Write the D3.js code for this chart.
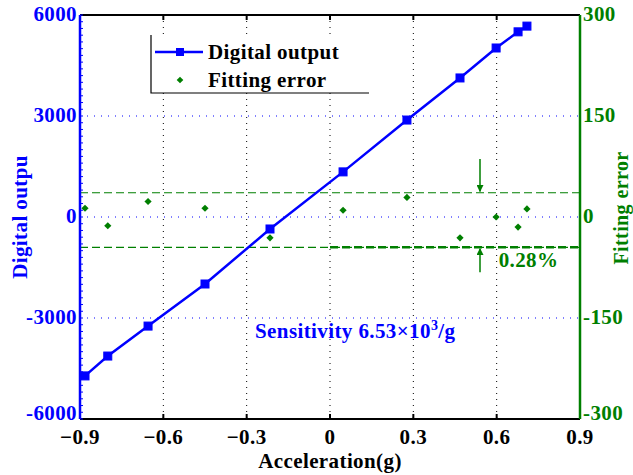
<!DOCTYPE html>
<html>
<head>
<meta charset="utf-8">
<script src="https://cdn.jsdelivr.net/npm/d3@7"></script>
<style>
  body { margin: 0; background: #fff; }
  text { font-family: "Liberation Serif", "Times New Roman", serif; font-weight: bold; letter-spacing: 0.4px; }
</style>
</head>
<body>
<div id="chart"></div>
<script>
// data
var accel = [-0.882, -0.8, -0.655, -0.45, -0.216, 0.047, 0.277, 0.468, 0.598, 0.677, 0.709]
var digitalOut = [-4720, -4130, -3240, -1990, -356, 1340, 2880, 4130, 5020, 5500, 5670]
var fitError = [13, -13, 23, 13, -31, 10, 29, -31, 0, -15, 12]
var errBand = [36, -45]
var xTicks = [-0.9, -0.6, -0.3, 0, 0.3, 0.6, 0.9]
var yLeftTicks = [-6000, -3000, 0, 3000, 6000]
var yRightTicks = [-300, -150, 0, 150, 300]

var blue = "#0000ff", green = "#007f00"
var margin = {top: 15, right: 53, bottom: 56, left: 80},
    width = 633 - margin.left - margin.right,
    height = 475 - margin.top - margin.bottom

var svg = d3.select("#chart")
  .append("svg")
    .attr("width", 633)
    .attr("height", 475)
  .append("g")
    .attr("transform", "translate(" + margin.left + "," + margin.top + ")")

var x = d3.scaleLinear().domain([-0.9, 0.9]).range([0, width])
var yL = d3.scaleLinear().domain([-6000, 6000]).range([height, 0])
var yR = d3.scaleLinear().domain([-300, 300]).range([height, 0])

// grid
svg.selectAll(".vgrid")
  .data(xTicks.slice(1, -1))
  .enter().append("line")
    .attr("x1", d => x(d)).attr("x2", d => x(d))
    .attr("y1", 0).attr("y2", height)
    .attr("stroke", "#000").attr("stroke-width", 1)
    .attr("stroke-dasharray", "1,5")
svg.selectAll(".hgrid")
  .data(yLeftTicks.slice(1, -1))
  .enter().append("line")
    .attr("x1", 0).attr("x2", width)
    .attr("y1", d => yL(d)).attr("y2", d => yL(d))
    .attr("stroke", blue).attr("stroke-width", 1)
    .attr("stroke-dasharray", "1,6")

// error band lines
svg.selectAll(".band")
  .data(errBand)
  .enter().append("line")
    .attr("x1", 0).attr("x2", width)
    .attr("y1", d => yR(d)).attr("y2", d => yR(d))
    .attr("stroke", green).attr("stroke-width", 1.2)
    .attr("stroke-dasharray", "8,4")
svg.append("line")
  .attr("x1", x(0)).attr("x2", width)
  .attr("y1", yR(errBand[1])).attr("y2", yR(errBand[1]))
  .attr("stroke", green).attr("stroke-width", 2.4)
  .attr("stroke-dasharray", "8,4")

// arrows
var arrowX = x(0.54)
svg.append("defs").append("marker")
    .attr("id", "head")
    .attr("viewBox", "0 0 10 10")
    .attr("refX", 9).attr("refY", 5)
    .attr("markerWidth", 7).attr("markerHeight", 7)
    .attr("markerUnits", "userSpaceOnUse")
    .attr("orient", "auto")
  .append("path").attr("d", "M0,0 L10,5 L0,10 z").attr("fill", green)
svg.append("line")
  .attr("x1", arrowX).attr("x2", arrowX)
  .attr("y1", yR(86)).attr("y2", yR(errBand[0] + 2))
  .attr("stroke", green).attr("stroke-width", 1.5)
  .attr("marker-end", "url(#head)")
svg.append("line")
  .attr("x1", arrowX).attr("x2", arrowX)
  .attr("y1", yR(-82)).attr("y2", yR(errBand[1] - 2))
  .attr("stroke", green).attr("stroke-width", 1.5)
  .attr("marker-end", "url(#head)")
svg.append("text")
  .attr("x", x(0.6) + 2).attr("y", yR(-74))
  .attr("fill", green).style("font-size", "21px")
  .text("0.28%")

// digital output line + squares
svg.append("path")
  .datum(accel.map((a, i) => [a, digitalOut[i]]))
  .attr("fill", "none").attr("stroke", blue).attr("stroke-width", 2.5)
  .attr("d", d3.line().x(d => x(d[0])).y(d => yL(d[1])))
svg.selectAll(".sq")
  .data(accel.map((a, i) => [a, digitalOut[i]]))
  .enter().append("rect")
    .attr("x", d => x(d[0]) - 4).attr("y", d => yL(d[1]) - 4)
    .attr("width", 8).attr("height", 8)
    .attr("fill", blue).attr("stroke", blue)

// fitting error markers (small rotated squares)
svg.selectAll(".err")
  .data(accel.map((a, i) => [a, fitError[i]]))
  .enter().append("path")
    .attr("transform", d => "translate(" + x(d[0]) + "," + yR(d[1]) + ") rotate(45)")
    .attr("d", d3.symbol().type(d3.symbolSquare).size(26))
    .attr("fill", green)

// axes frame
svg.append("line").attr("x1", 0).attr("x2", width).attr("y1", 0).attr("y2", 0)
  .attr("stroke", "#000").attr("stroke-width", 2)
svg.append("line").attr("x1", 0).attr("x2", width).attr("y1", height).attr("y2", height)
  .attr("stroke", "#000").attr("stroke-width", 2)

// x ticks (inward, top and bottom)
svg.selectAll(".xt")
  .data(xTicks)
  .enter().append("line")
    .attr("x1", d => x(d)).attr("x2", d => x(d))
    .attr("y1", height).attr("y2", height - 5)
    .attr("stroke", "#000").attr("stroke-width", 2)
svg.selectAll(".xtt")
  .data(xTicks)
  .enter().append("line")
    .attr("x1", d => x(d)).attr("x2", d => x(d))
    .attr("y1", 0).attr("y2", 5)
    .attr("stroke", "#000").attr("stroke-width", 2)
svg.selectAll(".xl")
  .data(xTicks)
  .enter().append("text")
    .attr("x", d => x(d)).attr("y", height + 25)
    .attr("text-anchor", "middle").style("font-size", "21px")
    .text(d => d3.format("")(d))

// left axis with minor ticks
svg.append("line").attr("x1", 0).attr("x2", 0).attr("y1", 0).attr("y2", height)
  .attr("stroke", blue).attr("stroke-width", 2.5)
svg.selectAll(".ym")
  .data(d3.range(-6000, 6001, 200))
  .enter().append("line")
    .attr("x1", 0).attr("x2", 3)
    .attr("y1", d => yL(d)).attr("y2", d => yL(d))
    .attr("stroke", blue).attr("stroke-width", 1)
svg.selectAll(".yl")
  .data(yLeftTicks)
  .enter().append("text")
    .attr("x", -3).attr("y", d => yL(d) + (d === -6000 ? 1 : 6))
    .attr("text-anchor", "end").attr("fill", blue).style("font-size", "21px")
    .text(d => d)

// right axis
svg.append("line").attr("x1", width).attr("x2", width).attr("y1", 0).attr("y2", height)
  .attr("stroke", green).attr("stroke-width", 2.5)
svg.selectAll(".yr")
  .data(yRightTicks)
  .enter().append("text")
    .attr("x", width + 3).attr("y", d => yR(d) + (d === -300 ? 1 : 6))
    .attr("fill", green).style("font-size", "21px")
    .text(d => d)

// axis titles
svg.append("text")
  .attr("x", x(0)).attr("y", height + 49)
  .attr("text-anchor", "middle").style("font-size", "21px")
  .text("Acceleration(g)")
svg.append("text")
  .attr("transform", "translate(" + (-53) + "," + yL(0) + ") rotate(-90)")
  .attr("text-anchor", "middle").attr("fill", blue).style("font-size", "21px")
  .text("Digital outpu")
svg.append("text")
  .attr("transform", "translate(" + (width + 48) + "," + (yR(0) - 9) + ") rotate(-90)")
  .attr("text-anchor", "middle").attr("fill", green).style("font-size", "20px")
  .text("Fitting error")

// sensitivity note
var sens = svg.append("text")
  .attr("x", x(-0.27)).attr("y", yL(-3000) + 20)
  .attr("fill", blue).style("font-size", "21px")
sens.append("tspan").text("Sensitivity 6.53×10")
sens.append("tspan").attr("dy", -8).style("font-size", "14px").text("3")
sens.append("tspan").attr("dy", 8).text("/g")

// legend
var lg = svg.append("g").attr("transform", "translate(71,20)")
lg.append("rect").attr("x", 0).attr("y", 0).attr("width", 214).attr("height", 58)
  .attr("fill", "#fff")
lg.append("path").attr("d", "M0,0 V58 H218").attr("fill", "none")
  .attr("stroke", "#000").attr("stroke-width", 1.2)
lg.append("line").attr("x1", 4).attr("x2", 52).attr("y1", 17).attr("y2", 17)
  .attr("stroke", blue).attr("stroke-width", 2.5)
lg.append("rect").attr("x", 25).attr("y", 13).attr("width", 8).attr("height", 8)
  .attr("fill", blue)
lg.append("path").attr("transform", "translate(29,45) rotate(45)")
  .attr("d", d3.symbol().type(d3.symbolSquare).size(22)).attr("fill", green)
lg.append("text").attr("x", 57).attr("y", 24).style("font-size", "21px").text("Digital output")
lg.append("text").attr("x", 57).attr("y", 52).style("font-size", "21px").text("Fitting error")
</script>
</body>
</html>
